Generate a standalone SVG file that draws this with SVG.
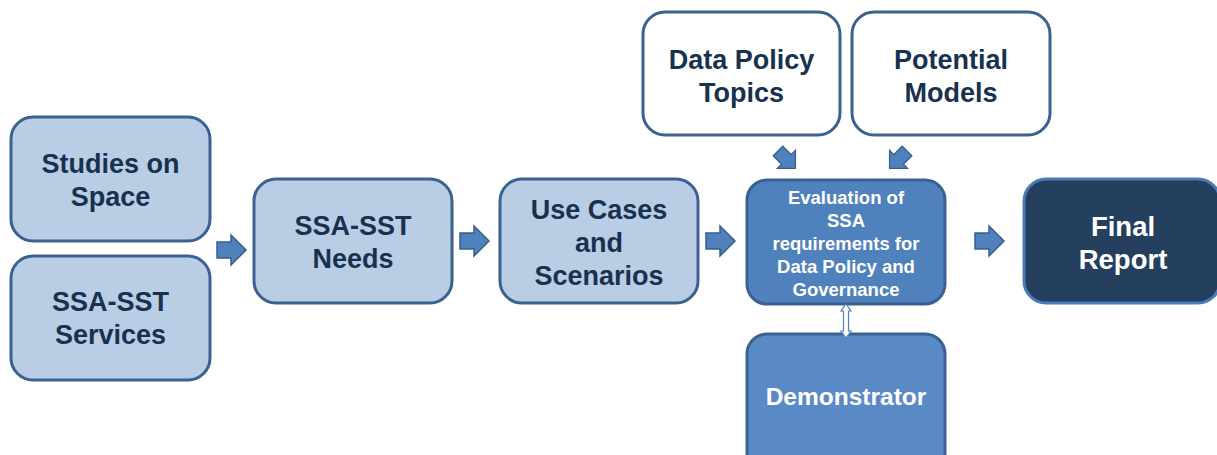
<svg xmlns="http://www.w3.org/2000/svg" width="1217" height="455" viewBox="0 0 1217 455">
  <defs>
    <style>
      .box { stroke: #3a6190; stroke-width: 3; }
      .light { fill: #b9cde5; }
      .white { fill: #ffffff; }
      .mid { fill: #4f81bd; }
      .demo { fill: #5a8ac6; }
      .dark { fill: #253f5f; stroke: #4a7bb7; stroke-width: 3; }
      .t { font-family: "Liberation Sans", Arial, sans-serif; font-weight: bold; text-anchor: middle; }
      .dk { fill: #17324f; font-size: 27px; }
      .ev { fill: #ffffff; font-size: 18.5px; }
      .wt { fill: #ffffff; }
      .arrow { fill: #4f81bd; stroke: #385d8a; stroke-width: 1.5; }
    </style>
    <!-- right-pointing block arrow, origin at left-centre -->
    <path id="blk" d="M0,-8 H14 V-15 L29,0 L14,15 V8 H0 Z"/>
  </defs>

  <g id="studies">
    <rect class="box light" x="11" y="117" width="199" height="124" rx="22"/>
    <text class="t dk" x="110.5" y="173">Studies on</text>
    <text class="t dk" x="110.5" y="206">Space</text>
  </g>
  <g id="services">
    <rect class="box light" x="11" y="256" width="199" height="124" rx="22"/>
    <text class="t dk" x="110.5" y="311">SSA-SST</text>
    <text class="t dk" x="110.5" y="344">Services</text>
  </g>
  <g id="needs">
    <rect class="box light" x="254" y="179" width="198" height="124" rx="22"/>
    <text class="t dk" x="353" y="235">SSA-SST</text>
    <text class="t dk" x="353" y="268">Needs</text>
  </g>
  <g id="usecases">
    <rect class="box light" x="500" y="179" width="198" height="124" rx="22"/>
    <text class="t dk" x="599" y="219">Use Cases</text>
    <text class="t dk" x="599" y="252">and</text>
    <text class="t dk" x="599" y="285">Scenarios</text>
  </g>
  <g id="topics">
    <rect class="box white" x="643" y="12" width="197" height="123" rx="22"/>
    <text class="t dk" x="741.5" y="69">Data Policy</text>
    <text class="t dk" x="741.5" y="102">Topics</text>
  </g>
  <g id="models">
    <rect class="box white" x="852" y="12" width="198" height="123" rx="22"/>
    <text class="t dk" x="951" y="69">Potential</text>
    <text class="t dk" x="951" y="102">Models</text>
  </g>
  <g id="evaluation">
    <rect class="box mid" x="747" y="180" width="198" height="124" rx="20"/>
    <text class="t ev" x="846" y="204">Evaluation of</text>
    <text class="t ev" x="846" y="227">SSA</text>
    <text class="t ev" x="846" y="250">requirements for</text>
    <text class="t ev" x="846" y="273">Data Policy and</text>
    <text class="t ev" x="846" y="296">Governance</text>
  </g>
  <g id="demonstrator">
    <rect class="box demo" x="747" y="334" width="198" height="140" rx="20"/>
    <text class="t wt" font-size="24.5" x="846" y="405">Demonstrator</text>
  </g>
  <g id="report">
    <rect class="dark" x="1024" y="179" width="196" height="124" rx="22"/>
    <text class="t wt" font-size="27.5" x="1123" y="236">Final</text>
    <text class="t wt" font-size="27.5" x="1123" y="269">Report</text>
  </g>

  <g id="connectors">
    <use href="#blk" class="arrow" x="217" y="250"/>
    <use href="#blk" class="arrow" x="460" y="241"/>
    <use href="#blk" class="arrow" x="706" y="241"/>
    <use href="#blk" class="arrow" x="975" y="241"/>
    <!-- diagonal feeds into the evaluation box -->
    <use href="#blk" class="arrow" transform="translate(778,151) rotate(45) scale(0.85)"/>
    <use href="#blk" class="arrow" transform="translate(907,151) rotate(135) scale(0.85)"/>
    <!-- two-way link between evaluation and demonstrator -->
    <path d="M846,304 L851,311 H848.5 V331 H851 L846,338 L841,331 H843.5 V311 H841 Z" fill="#ffffff" stroke="#4f81bd" stroke-width="1.2"/>
  </g>
</svg>
